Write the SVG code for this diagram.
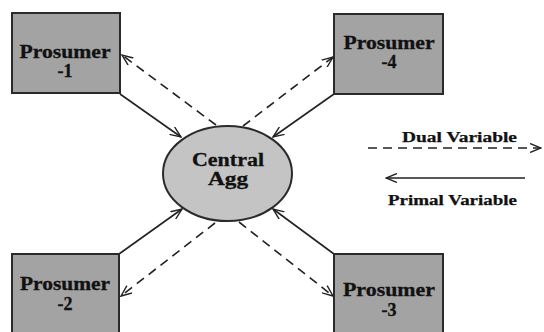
<svg xmlns="http://www.w3.org/2000/svg" width="544" height="332" viewBox="0 0 544 332">
<defs>
<style>
.box{fill:#a3a3a3;stroke:#2a2a2a;stroke-width:2}
.agg{fill:#c4c4c4;stroke:#2a2a2a;stroke-width:2}
.lbl{font-family:"Liberation Serif","Times New Roman",serif;font-weight:bold;font-size:18px;fill:#111;stroke:#111;stroke-width:0.3;text-anchor:middle}
.leg{font-family:"Liberation Serif","Times New Roman",serif;font-weight:bold;font-size:15.5px;fill:#111;stroke:#111;stroke-width:0.25;text-anchor:middle}
.solid{stroke:#222;stroke-width:1.6;fill:none;marker-end:url(#ah)}
.dash{stroke:#222;stroke-width:1.6;fill:none;stroke-dasharray:9 6;marker-end:url(#ah)}
</style>
<marker id="ah" viewBox="0 0 12 10" refX="11" refY="5" markerWidth="12" markerHeight="10" markerUnits="userSpaceOnUse" orient="auto">
<path d="M0,0.5 L11,5 L0,9.5" fill="none" stroke="#222" stroke-width="1.4"/>
</marker>
</defs>
<rect width="544" height="332" fill="#fff"/>
<g id="connectors">
<line class="solid" x1="120" y1="94" x2="181" y2="137"/>
<line class="dash" x1="216" y1="125" x2="122" y2="55"/>
<line class="solid" x1="334" y1="94" x2="273" y2="137"/>
<line class="dash" x1="243" y1="126" x2="333" y2="57"/>
<line class="solid" x1="119" y1="254" x2="182" y2="209"/>
<line class="dash" x1="215" y1="223" x2="121" y2="296"/>
<line class="solid" x1="334" y1="254" x2="273" y2="209"/>
<line class="dash" x1="239" y1="222" x2="333" y2="296"/>
</g>
<g id="prosumer1">
<rect class="box" x="12" y="13" width="108" height="80"/>
<text class="lbl" x="65" y="58" textLength="91" lengthAdjust="spacingAndGlyphs">Prosumer</text>
<text class="lbl" x="65" y="77">-1</text>
</g>
<g id="prosumer4">
<rect class="box" x="334" y="14" width="109" height="80"/>
<text class="lbl" x="389" y="49" textLength="91" lengthAdjust="spacingAndGlyphs">Prosumer</text>
<text class="lbl" x="389" y="68">-4</text>
</g>
<g id="prosumer2">
<rect class="box" x="12" y="254" width="107" height="90"/>
<text class="lbl" x="65" y="290" textLength="90" lengthAdjust="spacingAndGlyphs">Prosumer</text>
<text class="lbl" x="65" y="310">-2</text>
</g>
<g id="prosumer3">
<rect class="box" x="334" y="254" width="109" height="90"/>
<text class="lbl" x="389" y="296" textLength="92" lengthAdjust="spacingAndGlyphs">Prosumer</text>
<text class="lbl" x="389" y="316">-3</text>
</g>
<g id="central-agg">
<ellipse class="agg" cx="227.5" cy="173.5" rx="64.5" ry="47.5"/>
<text class="lbl" x="228" y="166" textLength="72" lengthAdjust="spacingAndGlyphs">Central</text>
<text class="lbl" x="228" y="185" textLength="40" lengthAdjust="spacingAndGlyphs">Agg</text>
</g>
<g id="legend">
<text class="leg" x="459.5" y="142" textLength="115" lengthAdjust="spacingAndGlyphs">Dual Variable</text>
<line class="dash" x1="368" y1="148" x2="541" y2="148"/>
<line class="solid" x1="525" y1="178" x2="386" y2="178"/>
<text class="leg" x="452.5" y="205" textLength="129" lengthAdjust="spacingAndGlyphs">Primal Variable</text>
</g>
</svg>
